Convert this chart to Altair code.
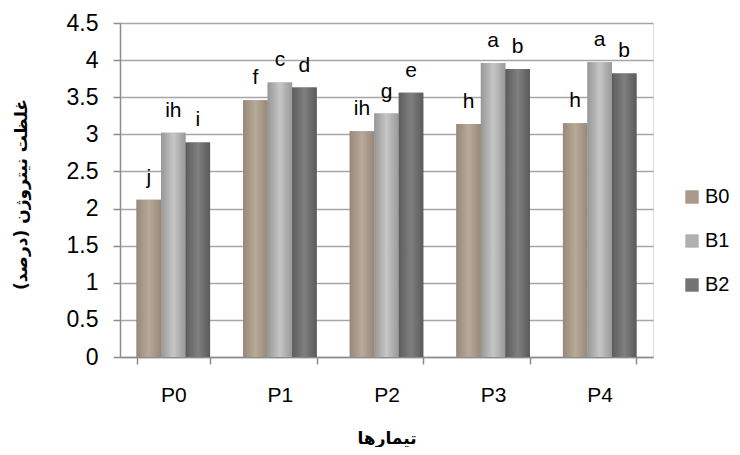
import altair as alt
import pandas as pd

categories = ["P0", "P1", "P2", "P3", "P4"]
series = ["B0", "B1", "B2"]
b0_values = [2.12, 3.46, 3.04, 3.14, 3.15]
b1_values = [3.02, 3.70, 3.28, 3.96, 3.97]
b2_values = [2.89, 3.63, 3.56, 3.88, 3.82]
b0_letters = ["j", "f", "ih", "h", "h"]
b1_letters = ["ih", "c", "g", "a", "a"]
b2_letters = ["i", "d", "e", "b", "b"]
y_ticks = [0, 0.5, 1, 1.5, 2, 2.5, 3, 3.5, 4, 4.5]

rows = []
for s, vals, lets in zip(series, [b0_values, b1_values, b2_values],
                         [b0_letters, b1_letters, b2_letters]):
    for c, v, l in zip(categories, vals, lets):
        rows.append({"cat": c, "ser": s, "val": v, "let": l})
df = pd.DataFrame(rows)

FONT = "Liberation Sans"
AR_FONT = "DejaVu Sans"

x_enc = alt.X("cat:N", sort=categories,
              scale=alt.Scale(paddingInner=0.31, paddingOuter=0.155),
              axis=alt.Axis(title="تیمارها", labelAngle=0, labelFontSize=21,
                            labelFont=FONT, labelColor="#000000", labelPadding=20,
                            tickBand="extent", tickSize=7, tickColor="#8c8c8c",
                            domainColor="#8c8c8c", domainWidth=1.5, tickWidth=1.5,
                            titleFont=AR_FONT, titleFontSize=17, titleFontWeight="bold",
                            titleColor="#000000", titleY=81, titleBaseline="middle"))
y_enc = alt.Y("val:Q", scale=alt.Scale(domain=[0, 4.5], nice=False, zero=True),
              axis=alt.Axis(title="غلظت نیتروژن (درصد)", values=y_ticks,
                            labelExpr="datum.value",
                            labelOverlap=False, labelFlush=False,
                            labelFontSize=23, labelFont=FONT,
                            labelColor="#000000", labelPadding=15, tickSize=7,
                            tickColor="#8c8c8c", domainColor="#8c8c8c", domainWidth=1.5,
                            tickWidth=1.5, grid=True, gridColor="#a6a6a6", gridWidth=1.5,
                            titleFont=AR_FONT, titleFontSize=17, titleFontWeight="bold",
                            titleColor="#000000", titleX=-99, titleY=171,
                            titleAngle=-90, titleBaseline="middle"))
xo = alt.XOffset("ser:N", scale=alt.Scale(domain=series, paddingInner=0.0))

base = alt.Chart(df).encode(x=x_enc, y=y_enc, xOffset=xo)

bars = base.mark_bar().encode(
    color=alt.Color("ser:N", scale=alt.Scale(domain=series, range=["#a89a8b", "#b0b0b0", "#737373"]),
                    legend=alt.Legend(title=None, orient="none", legendX=562, legendY=164,
                                      labelFontSize=20, labelFont=FONT, labelColor="#000000",
                                      symbolType="square", symbolSize=180, symbolStrokeWidth=0,
                                      rowPadding=24, labelOffset=3, padding=0))
)

grads = {
    "B0": [("#978878", 0), ("#b8aa9a", 0.5), ("#978878", 1)],
    "B1": [("#979797", 0), ("#c6c6c6", 0.5), ("#999999", 1)],
    "B2": [("#5c5c5c", 0), ("#808080", 0.5), ("#5a5a5a", 1)],
}
overlays = []
for s in series:
    g = alt.LinearGradient(gradient="linear",
                           stops=[alt.GradientStop(color=c, offset=o) for c, o in grads[s]],
                           x1=0, x2=1, y1=0, y2=0)
    overlays.append(base.transform_filter(alt.datum.ser == s).mark_bar(color=g))

labels = base.mark_text(baseline="alphabetic", dy=-16, fontSize=21, font=FONT,
                        color="#000000").encode(text="let:N")

chart = alt.layer(bars, *overlays, labels).properties(
    width=533, height=334,
    autosize=alt.AutoSizeParams(type="none"),
    padding={"left": 112, "top": 15, "right": 79, "bottom": 90},
).configure_view(stroke=None).configure_axis(labelOverlap=False).configure(background="#ffffff")

chart.save("out.html", embed_options={"renderer": "svg", "actions": False})
